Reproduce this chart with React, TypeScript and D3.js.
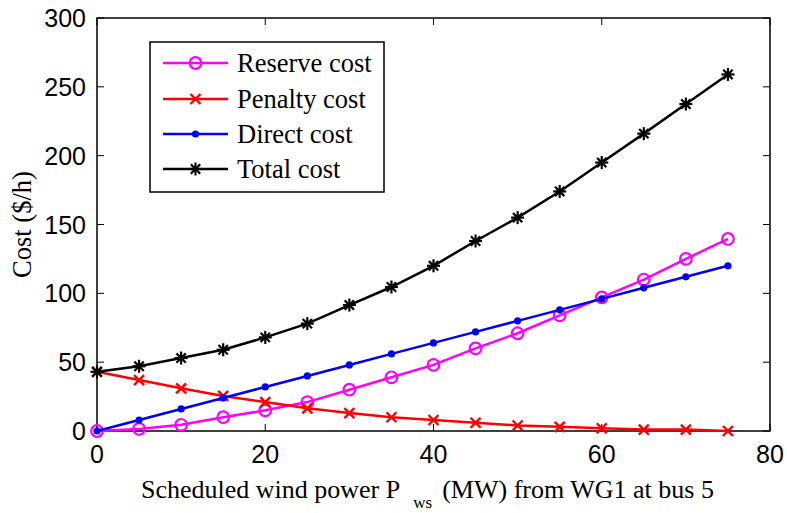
import React from "react";
import * as d3 from "d3";

const xValues = [0, 5, 10, 15, 20, 25, 30, 35, 40, 45, 50, 55, 60, 65, 70, 75];
const reserveCost = [0, 1.5, 4.5, 10, 15, 21, 30, 39, 48, 60, 71, 84, 97, 110, 125, 139.5];
const penaltyCost = [43, 37, 31, 25.5, 21, 16.5, 13, 10, 8, 6, 4, 3, 2, 1, 1, 0];
const directCost = [0, 8, 16, 24, 32, 40, 48, 56, 64, 72, 80, 88, 96, 104, 112, 120];
const totalCost = [43, 47, 53, 59, 68, 78, 91.5, 104.6, 120, 138, 155, 174, 195, 216, 237.5, 259];
const xTicks = [0, 20, 40, 60, 80];
const yTicks = [0, 50, 100, 150, 200, 250, 300];
const seriesNames = ["Reserve cost", "Penalty cost", "Direct cost", "Total cost"];

const W = 787;
const H = 513;
const L = 97, R = 770, T = 18, B = 431;

type MarkerKind = "circle" | "x" | "dot" | "star";

function Marker({ kind, x, y, color }: { kind: MarkerKind; x: number; y: number; color: string }) {
  if (kind === "circle") return <circle cx={x} cy={y} r={5.8} fill="none" stroke={color} strokeWidth={2.2} />;
  if (kind === "dot") return <circle cx={x} cy={y} r={3.6} fill={color} />;
  if (kind === "x") {
    const s = 5;
    return (
      <g stroke={color} strokeWidth={2.4}>
        <line x1={x - s} y1={y - s} x2={x + s} y2={y + s} />
        <line x1={x - s} y1={y + s} x2={x + s} y2={y - s} />
      </g>
    );
  }
  const s = 6.5;
  const d = s * 0.72;
  return (
    <g stroke={color} strokeWidth={2.2}>
      <line x1={x - s} y1={y} x2={x + s} y2={y} />
      <line x1={x} y1={y - s} x2={x} y2={y + s} />
      <line x1={x - d} y1={y - d} x2={x + d} y2={y + d} />
      <line x1={x - d} y1={y + d} x2={x + d} y2={y - d} />
    </g>
  );
}

export default function App() {
  const xs = d3.scaleLinear().domain([0, 80]).range([L, R]);
  const ys = d3.scaleLinear().domain([0, 300]).range([B, T]);
  const series: { name: string; vals: number[]; color: string; kind: MarkerKind }[] = [
    { name: seriesNames[0], vals: reserveCost, color: "#ff00ff", kind: "circle" },
    { name: seriesNames[1], vals: penaltyCost, color: "#ff0000", kind: "x" },
    { name: seriesNames[2], vals: directCost, color: "#0000ff", kind: "dot" },
    { name: seriesNames[3], vals: totalCost, color: "#000000", kind: "star" },
  ];
  const line = d3
    .line<number>()
    .x((_, i) => xs(xValues[i]))
    .y((v) => ys(v));
  const tickLen = 7;
  const legX = 150, legY = 42, legW = 234, legH = 150;
  const rowY = [63, 99, 134, 169];
  const serif = "'Liberation Serif', 'Times New Roman', serif";
  return (
    <svg width={W} height={H} style={{ position: "absolute", left: 0, top: 0, background: "#fff" }}>
      <rect x={0} y={0} width={W} height={H} fill="#fff" />
      {/* ticks */}
      <g stroke="#000" strokeWidth={1}>
        {xTicks.map((t) => (
          <g key={"xt" + t}>
            <line x1={xs(t)} x2={xs(t)} y1={B} y2={B - tickLen} />
            <line x1={xs(t)} x2={xs(t)} y1={T} y2={T + tickLen} />
          </g>
        ))}
        {yTicks.map((t) => (
          <g key={"yt" + t}>
            <line x1={L} x2={L + tickLen} y1={ys(t)} y2={ys(t)} />
            <line x1={R} x2={R - tickLen} y1={ys(t)} y2={ys(t)} />
          </g>
        ))}
      </g>
      <rect x={L} y={T} width={R - L} height={B - T} fill="none" stroke="#000" strokeWidth={1.5} />
      {/* tick labels */}
      <g fontFamily="'Liberation Sans', Arial, sans-serif" fontSize={25} fill="#000">
        {xTicks.map((t) => (
          <text key={"xl" + t} x={xs(t)} y={B + 32} textAnchor="middle">
            {t}
          </text>
        ))}
        {yTicks.map((t) => (
          <text key={"yl" + t} x={L - 11} y={ys(t) + 9} textAnchor="end">
            {t}
          </text>
        ))}
      </g>
      {/* series */}
      {series.map((s) => (
        <g key={s.name}>
          <path d={line(s.vals) || ""} fill="none" stroke={s.color} strokeWidth={2.5} />
          {s.vals.map((v, i) => (
            <Marker key={i} kind={s.kind} x={xs(xValues[i])} y={ys(v)} color={s.color} />
          ))}
        </g>
      ))}
      {/* legend */}
      <rect x={legX} y={legY} width={legW} height={legH} fill="#fff" stroke="#000" strokeWidth={1.5} />
      {series.map((s, i) => (
        <g key={"leg" + s.name}>
          <line x1={163} x2={228} y1={rowY[i]} y2={rowY[i]} stroke={s.color} strokeWidth={2.5} />
          <Marker kind={s.kind} x={195.5} y={rowY[i]} color={s.color} />
          <text x={237} y={rowY[i] + 9} fontFamily={serif} fontSize={26.5} fill="#000">
            {s.name}
          </text>
        </g>
      ))}
      {/* axis labels */}
      <text
        transform={`translate(31, ${(T + B) / 2}) rotate(-90)`}
        textAnchor="middle"
        fontFamily={serif}
        fontSize={26.5}
        fill="#000"
      >
        Cost ($/h)
      </text>
      <text x={141} y={498} fontFamily={serif} fontSize={26} fill="#000">
        Scheduled wind power P
        <tspan dx={13} dy={10} fontSize={17}>ws</tspan>
        <tspan dx={10} dy={-10}>(MW) from WG1 at bus 5</tspan>
      </text>
    </svg>
  );
}
